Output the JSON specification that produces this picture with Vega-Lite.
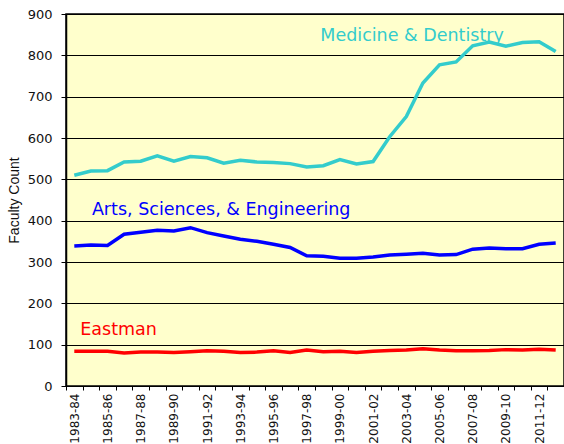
{
  "$schema": "https://vega.github.io/schema/vega-lite/v6.json",
  "autosize": "none",
  "width": 498,
  "height": 372,
  "padding": {"left": 66, "top": 14, "right": 0, "bottom": 58},
  "background": "white",
  "config": {
    "view": {"fill": "#FFFFCC", "stroke": "#000000", "strokeWidth": 1.5},
    "axis": {"labelFont": "DejaVu Sans", "labelColor": "#111111", "domainColor": "#000000", "tickColor": "#000000"}
  },
  "layer": [
    {
      "data": {
        "values": [
          {"year": "1983-84", "Medicine": 510, "ASE": 339, "Eastman": 84},
          {"year": "1984-85", "Medicine": 520, "ASE": 341, "Eastman": 84},
          {"year": "1985-86", "Medicine": 521, "ASE": 340, "Eastman": 84},
          {"year": "1986-87", "Medicine": 542, "ASE": 367, "Eastman": 80},
          {"year": "1987-88", "Medicine": 544, "ASE": 372, "Eastman": 82},
          {"year": "1988-89", "Medicine": 557, "ASE": 377, "Eastman": 82},
          {"year": "1989-90", "Medicine": 544, "ASE": 375, "Eastman": 81},
          {"year": "1990-91", "Medicine": 555, "ASE": 383, "Eastman": 83},
          {"year": "1991-92", "Medicine": 552, "ASE": 371, "Eastman": 85},
          {"year": "1992-93", "Medicine": 539, "ASE": 363, "Eastman": 84},
          {"year": "1993-94", "Medicine": 546, "ASE": 355, "Eastman": 81},
          {"year": "1994-95", "Medicine": 542, "ASE": 350, "Eastman": 82},
          {"year": "1995-96", "Medicine": 541, "ASE": 343, "Eastman": 85},
          {"year": "1996-97", "Medicine": 538, "ASE": 335, "Eastman": 81},
          {"year": "1997-98", "Medicine": 530, "ASE": 315, "Eastman": 87},
          {"year": "1998-99", "Medicine": 533, "ASE": 314, "Eastman": 83},
          {"year": "1999-00", "Medicine": 548, "ASE": 309, "Eastman": 84},
          {"year": "2000-01", "Medicine": 537, "ASE": 309, "Eastman": 81},
          {"year": "2001-02", "Medicine": 543, "ASE": 312, "Eastman": 84},
          {"year": "2002-03", "Medicine": 603, "ASE": 317, "Eastman": 86},
          {"year": "2003-04", "Medicine": 652, "ASE": 319, "Eastman": 87},
          {"year": "2004-05", "Medicine": 733, "ASE": 321, "Eastman": 90},
          {"year": "2005-06", "Medicine": 777, "ASE": 317, "Eastman": 87},
          {"year": "2006-07", "Medicine": 784, "ASE": 318, "Eastman": 85},
          {"year": "2007-08", "Medicine": 823, "ASE": 331, "Eastman": 85},
          {"year": "2008-09", "Medicine": 832, "ASE": 334, "Eastman": 86},
          {"year": "2009-10", "Medicine": 822, "ASE": 332, "Eastman": 88},
          {"year": "2010-11", "Medicine": 831, "ASE": 332, "Eastman": 87},
          {"year": "2011-12", "Medicine": 833, "ASE": 343, "Eastman": 89},
          {"year": "2012-13", "Medicine": 809, "ASE": 346, "Eastman": 87}
        ]
      },
      "transform": [{"fold": ["Medicine", "ASE", "Eastman"], "as": ["series", "count"]}],
      "mark": {"type": "line", "strokeWidth": 3.5},
      "encoding": {
        "x": {
          "field": "year", "type": "ordinal", "sort": null,
          "scale": {"type": "band", "paddingInner": 0, "paddingOuter": 0},
          "axis": {
            "title": null, "labelAngle": 270, "tickBand": "extent", "tickSize": 4,
            "labelFontSize": 12, "labelPadding": 3, "grid": false,
            "labelExpr": "toNumber(slice(datum.label, 0, 4)) % 2 === 1 ? datum.label : ''"
          }
        },
        "y": {
          "field": "count", "type": "quantitative",
          "scale": {"domain": [0, 900], "nice": false},
          "axis": {
            "title": "Faculty Count", "titleFont": "Liberation Sans", "titleFontSize": 14,
            "titleFontWeight": "normal", "titleColor": "#111111", "titlePadding": 6,
            "values": [0, 100, 200, 300, 400, 500, 600, 700, 800, 900],
            "labelFontSize": 13, "labelPadding": 9, "tickSize": 5,
            "grid": true, "gridColor": "#000000", "gridOpacity": 1, "domainWidth": 1.5
          }
        },
        "color": {
          "field": "series", "type": "nominal",
          "scale": {"domain": ["Medicine", "ASE", "Eastman"], "range": ["#33CCCC", "#0000FF", "#FF0000"]},
          "legend": null
        }
      }
    },
    {
      "data": {"values": [{"label": "Medicine & Dentistry"}]},
      "mark": {"type": "text", "align": "left", "baseline": "alphabetic", "font": "DejaVu Sans", "fontSize": 17.5, "color": "#33CCCC", "dx": -3},
      "encoding": {
        "x": {"datum": "1998-99", "type": "ordinal"},
        "y": {"datum": 835, "type": "quantitative"},
        "text": {"field": "label"}
      }
    },
    {
      "data": {"values": [{"label": "Arts, Sciences, & Engineering"}]},
      "mark": {"type": "text", "align": "left", "baseline": "alphabetic", "font": "DejaVu Sans", "fontSize": 17.5, "color": "#0000FF", "dx": 1},
      "encoding": {
        "x": {"datum": "1984-85", "type": "ordinal"},
        "y": {"datum": 414, "type": "quantitative"},
        "text": {"field": "label"}
      }
    },
    {
      "data": {"values": [{"label": "Eastman"}]},
      "mark": {"type": "text", "align": "left", "baseline": "alphabetic", "font": "DejaVu Sans", "fontSize": 17.5, "color": "#FF0000", "dx": 6},
      "encoding": {
        "x": {"datum": "1983-84", "type": "ordinal"},
        "y": {"datum": 123, "type": "quantitative"},
        "text": {"field": "label"}
      }
    }
  ]
}
